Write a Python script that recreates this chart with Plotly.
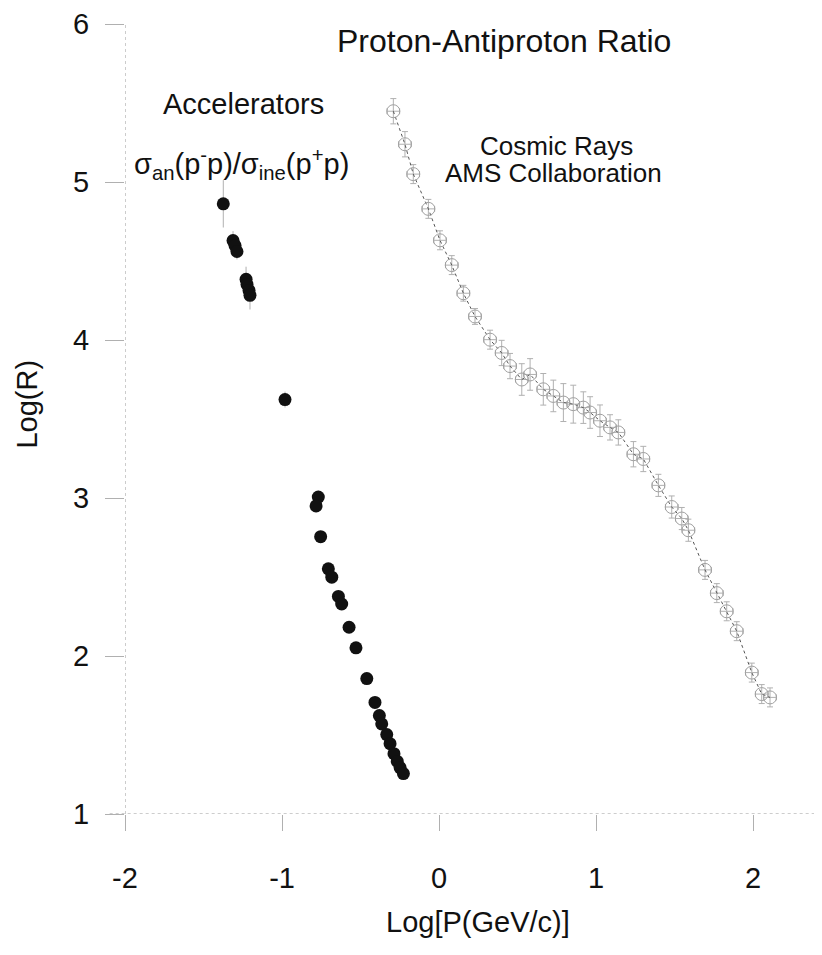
import plotly.graph_objects as go

# ---------------- data ----------------
acc_x = [-1.374, -1.312, -1.299, -1.287, -1.229, -1.223, -1.210, -1.204, -0.981,
         -0.769, -0.783, -0.754, -0.705, -0.683, -0.641, -0.620, -0.573, -0.529,
         -0.460, -0.408, -0.380, -0.365, -0.333, -0.312, -0.287, -0.266, -0.248, -0.227]
acc_y = [4.862, 4.629, 4.597, 4.560, 4.384, 4.352, 4.314, 4.283, 3.623,
         3.006, 2.950, 2.755, 2.552, 2.499, 2.377, 2.329, 2.182, 2.052,
         1.857, 1.706, 1.623, 1.570, 1.503, 1.445, 1.382, 1.333, 1.294, 1.256]
acc_err = [0.15, 0.06, 0.05, 0.05, 0.08, 0.06, 0.06, 0.09, 0.05,
           0.04, 0.04, 0.03, 0.03, 0.03, 0.03, 0.03, 0.02, 0.02,
           0.03, 0.02, 0.02, 0.02, 0.02, 0.02, 0.02, 0.02, 0.02, 0.02]

cr_x = [-0.291, -0.217, -0.164, -0.068, 0.006, 0.081, 0.155, 0.229, 0.325, 0.399,
        0.452, 0.527, 0.580, 0.664, 0.728, 0.792, 0.855, 0.919, 0.962, 1.025,
        1.089, 1.142, 1.238, 1.301, 1.397, 1.482, 1.546, 1.588, 1.694, 1.769,
        1.832, 1.896, 1.992, 2.055, 2.108]
cr_y = [5.448, 5.239, 5.050, 4.830, 4.631, 4.474, 4.296, 4.149, 4.002, 3.918,
        3.835, 3.750, 3.782, 3.688, 3.646, 3.604, 3.594, 3.572, 3.541, 3.489,
        3.447, 3.415, 3.277, 3.247, 3.080, 2.943, 2.870, 2.796, 2.545, 2.398,
        2.283, 2.157, 1.895, 1.759, 1.738]
cr_err_y = [0.08, 0.08, 0.06, 0.06, 0.06, 0.06, 0.05, 0.05, 0.06, 0.08,
            0.08, 0.10, 0.10, 0.10, 0.10, 0.12, 0.12, 0.10, 0.10, 0.10,
            0.08, 0.08, 0.08, 0.08, 0.07, 0.07, 0.07, 0.07, 0.06, 0.06,
            0.06, 0.06, 0.06, 0.06, 0.06]
cr_err_x = [0.04, 0.04, 0.04, 0.04, 0.04, 0.04, 0.04, 0.04, 0.04, 0.04,
            0.04, 0.04, 0.04, 0.04, 0.04, 0.04, 0.04, 0.04, 0.04, 0.04,
            0.04, 0.04, 0.04, 0.04, 0.04, 0.04, 0.04, 0.04, 0.04, 0.04,
            0.04, 0.04, 0.04, 0.04, 0.04]

x_tickvals = [-2, -1, 0, 1, 2]
x_ticktext = ["-2", "-1", "0", "1", "2"]
y_tickvals = [1, 2, 3, 4, 5, 6]
y_ticktext = ["1", "2", "3", "4", "5", "6"]

FONT = "Liberation Sans, Arial, Helvetica, sans-serif"
INK = "#111111"

# page body has an 8px margin, so the figure is drawn 8px smaller and offset
W, H = 814, 947
ML, MT, MB = 117, 11, 141

fig = go.Figure()

fig.add_trace(go.Scatter(
    x=cr_x, y=cr_y, mode="lines+markers",
    line=dict(color="#555555", width=1, dash="dot"),
    marker=dict(symbol="circle-open", size=13, color="#a0a0a0", line=dict(width=1, color="#a0a0a0")),
    error_y=dict(type="data", array=cr_err_y, color="#b0b0b0", thickness=1, width=3),
    error_x=dict(type="data", array=cr_err_x, color="#b0b0b0", thickness=1, width=3),
    showlegend=False, hoverinfo="x+y",
))

fig.add_trace(go.Scatter(
    x=acc_x, y=acc_y, mode="markers",
    marker=dict(symbol="circle", size=13, color=INK, line=dict(width=0)),
    error_y=dict(type="data", array=acc_err, color="#b0b0b0", thickness=1, width=0),
    showlegend=False, hoverinfo="x+y",
))

axis_common = dict(
    showgrid=False, zeroline=False, showline=False,
    ticks="outside", tickcolor="#b0b0b0", tickwidth=1,
    tickfont=dict(family=FONT, size=29, color=INK),
    ticklabeloverflow="allow",
)

fig.update_layout(
    width=W, height=H,
    margin=dict(l=ML, r=0, t=MT, b=MB),
    paper_bgcolor="white", plot_bgcolor="white",
    font=dict(family=FONT, color=INK),
    xaxis=dict(range=[-2, 2.439], tickvals=x_tickvals, ticktext=x_ticktext,
               ticklen=16, ticklabelstandoff=22, **axis_common),
    yaxis=dict(range=[1, 6], tickvals=y_tickvals, ticktext=y_ticktext,
               ticklen=19, ticklabelstandoff=10, **axis_common),
    shapes=[
        dict(type="line", xref="x", yref="y", x0=-2, x1=-2, y0=1, y1=6,
             line=dict(color="#9a9a9a", width=1, dash="dot"), layer="below"),
        dict(type="line", xref="paper", yref="y", x0=-0.022, x1=1, y0=1, y1=1,
             line=dict(color="#9a9a9a", width=1, dash="dot"), layer="below"),
    ],
    annotations=[
        dict(text="Proton-Antiproton Ratio", x=0.414, y=5.893, xref="x", yref="y",
             showarrow=False, xanchor="center", yanchor="middle",
             font=dict(family=FONT, size=32, color=INK)),
        dict(text="Accelerators", x=-1.248, y=5.491, xref="x", yref="y",
             showarrow=False, xanchor="center", yanchor="middle",
             font=dict(family=FONT, size=29, color=INK)),
        dict(text="σ<sub>an</sub>(p<sup>-</sup>p)/σ<sub>ine</sub>(p<sup>+</sup>p)",
             x=-1.261, y=5.113, xref="x", yref="y",
             showarrow=False, xanchor="center", yanchor="middle",
             font=dict(family=FONT, size=29, color=INK)),
        dict(text="Cosmic Rays", x=0.745, y=5.226, xref="x", yref="y",
             showarrow=False, xanchor="center", yanchor="middle",
             font=dict(family=FONT, size=26, color=INK)),
        dict(text="AMS Collaboration", x=0.732, y=5.057, xref="x", yref="y",
             showarrow=False, xanchor="center", yanchor="middle",
             font=dict(family=FONT, size=26, color=INK)),
    ],
)

# axis titles as annotations, positioned relative to the plot area
# (plot area on page spans x 125..822, y 19..814)
pw, ph = 822 - 125, 814 - 19
fig.add_annotation(text="Log[P(GeV/c)]", x=(478 - 125) / pw, y=(814 - 923) / ph,
                   xref="paper", yref="paper", showarrow=False,
                   xanchor="center", yanchor="middle",
                   font=dict(family=FONT, size=29, color=INK))
fig.add_annotation(text="Log(R)", x=(27 - 125) / pw, y=(814 - 402) / ph,
                   xref="paper", yref="paper", showarrow=False, textangle=-90,
                   xanchor="center", yanchor="middle",
                   font=dict(family=FONT, size=29, color=INK))

fig.write_html("out.html")
